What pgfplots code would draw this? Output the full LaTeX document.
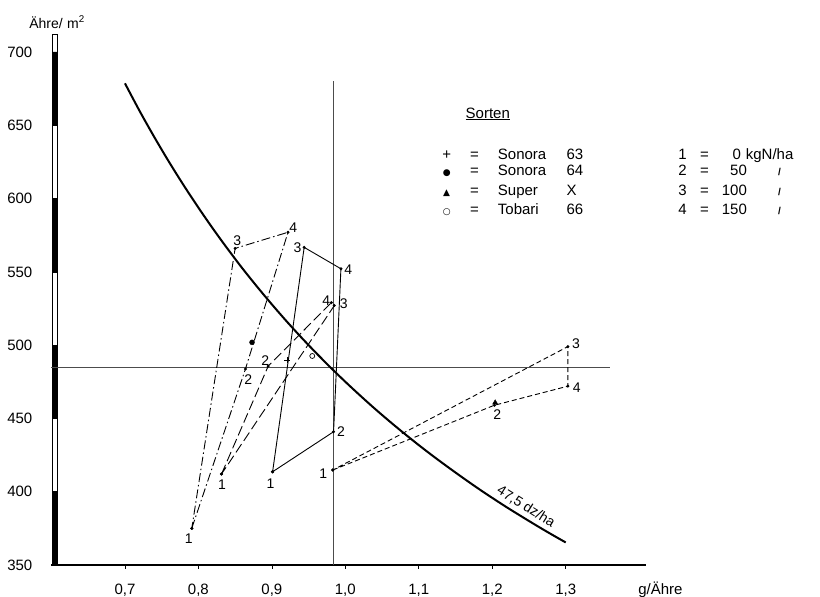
\documentclass[border=0pt]{standalone}
\usepackage{fontspec}
\setmainfont{Liberation Sans}
\newfontfamily\symfont{DejaVu Sans}
\usepackage{pgfplots}
\pgfplotsset{compat=1.18}
\begin{document}
\fontsize{15}{18}\selectfont
\begin{tikzpicture}
\path[use as bounding box] (-51.5pt,-32pt) rectangle (768.5pt,565pt);
\begin{axis}[
  at={(0pt,0pt)}, anchor=south west,
  scale only axis, width=595pt, height=535pt,
  xmin=0.6, xmax=1.41, ymin=350, ymax=715,
  axis x line=bottom, axis y line=left,
  x axis line style={line width=2pt,-},
  y axis line style={draw=none},
  xtick={0.7,0.8,0.9,1.0,1.1,1.2,1.3},
  ytick={350,400,450,500,550,600,650,700},
  xtick style={draw=black, line width=0.6pt},
  ytick style={draw=none},
  tick align=outside, major tick length=4pt,
  xticklabel style={/pgf/number format/.cd, use comma, fixed, fixed zerofill, precision=1, /tikz/.cd, yshift=-10pt},
  yticklabel style={/pgf/number format/.cd, fixed, precision=0, /tikz/.cd, xshift=-10pt},
  /pgf/number format/assume math mode=true,
  tick label style={font=\fontsize{15}{18}\selectfont},
  clip=false,
]
% y axis scale bar
\addplot[draw=black, fill=white, line width=0.5pt] coordinates {(0.601,350) (0.608,350) (0.608,712) (0.601,712) (0.601,350)};
\addplot[draw=black, fill=black, line width=0.5pt] coordinates {(0.601,350) (0.608,350) (0.608,400) (0.601,400) (0.601,350)};
\addplot[draw=black, fill=black, line width=0.5pt] coordinates {(0.601,450) (0.608,450) (0.608,500) (0.601,500) (0.601,450)};
\addplot[draw=black, fill=black, line width=0.5pt] coordinates {(0.601,550) (0.608,550) (0.608,600) (0.601,600) (0.601,550)};
\addplot[draw=black, fill=black, line width=0.5pt] coordinates {(0.601,650) (0.608,650) (0.608,700) (0.601,700) (0.601,650)};
% reference lines
\addplot[draw=black!70, line width=0.6pt] coordinates {(0.983,350) (0.983,680)};
\addplot[draw=black!70, line width=0.6pt] coordinates {(0.6,485) (1.36,485)};
% 47,5 dz/ha isoline
\addplot[black, line width=2pt, smooth] coordinates {
(0.70,678.6) (0.72,659.7) (0.74,641.9) (0.76,625.0) (0.78,609.0) (0.80,593.8)
(0.82,579.3) (0.84,565.5) (0.86,552.3) (0.88,539.8) (0.90,527.8) (0.92,516.3)
(0.94,505.3) (0.96,494.8) (0.98,484.7) (1.00,475.0) (1.02,465.7) (1.04,456.7)
(1.06,448.1) (1.08,439.8) (1.10,431.8) (1.12,424.1) (1.14,416.7) (1.16,409.5)
(1.18,402.5) (1.20,395.8) (1.22,389.3) (1.24,383.1) (1.26,377.0) (1.28,371.1)
(1.30,365.4)};
% Tobari 66 (solid): 1-2-4-3-1
\addplot[black, line width=0.9pt, mark=*, mark size=1pt] coordinates {(0.901,413.6) (0.984,440.9) (0.994,552.1) (0.944,566.7) (0.901,413.6)};
% Sonora 64 (dash-dot)
\addplot[black, line width=0.9pt, dash pattern=on 9pt off 3pt on 1.5pt off 3pt, mark=*, mark size=1pt, mark options={solid}] coordinates {(0.791,375) (0.864,483.7) (0.922,577) (0.850,566) (0.791,375)};
% Sonora 63 (long dashes)
\addplot[black, line width=0.9pt, dash pattern=on 10pt off 4pt, mark=*, mark size=1pt, mark options={solid}] coordinates {(0.8315,412.1) (0.895,485.7) (0.981,529) (0.985,527) (0.8315,412.1)};
% Super X (dashed)
\addplot[black, line width=0.9pt, dash pattern=on 5pt off 3pt, mark=*, mark size=1pt, mark options={solid}] coordinates {(0.983,414.8) (1.203,459) (1.303,472) (1.303,499) (0.983,414.8)};
% means
\addplot[only marks, mark=+, mark size=3pt, line width=0.8pt] coordinates {(0.921,489.8)};
\addplot[only marks, mark=*, mark size=2.5pt] coordinates {(0.873,501.9)};
\addplot[only marks, mark=triangle*, mark size=3pt] coordinates {(1.204,460.7)};
\addplot[only marks, mark=o, mark size=2.5pt, line width=0.7pt] coordinates {(0.955,492.6)};
% point labels
\begin{scope}[every node/.style={font=\fontsize{14}{16}\selectfont, inner sep=0pt}]
\node at (axis cs:0.898,405.3) {1};
\node at (axis cs:0.994,440.9) {2};
\node at (axis cs:0.935,566.4) {3};
\node at (axis cs:1.004,551.2) {4};
\node at (axis cs:0.787,368.2) {1};
\node at (axis cs:0.868,476.7) {2};
\node at (axis cs:0.853,571.2) {3};
\node at (axis cs:0.929,580) {4};
\node at (axis cs:0.832,404.6) {1};
\node at (axis cs:0.891,489.4) {2};
\node at (axis cs:0.974,530.3) {4};
\node at (axis cs:0.998,528) {3};
\node at (axis cs:0.970,412.5) {1};
\node at (axis cs:1.207,452.8) {2};
\node at (axis cs:1.314,501) {3};
\node at (axis cs:1.315,471.2) {4};
\end{scope}
% curve label
\node[rotate=-32, anchor=south, font=\fontsize{14}{16}\selectfont, inner sep=2pt] at (axis cs:1.24,385) {47,5 dz/ha};
% axis titles
\node[anchor=base east, inner sep=0pt, font=\fontsize{14}{16}\selectfont] at (axis cs:0.6156,716.3) {Ähre/};
\node[anchor=base west, inner sep=0pt, font=\fontsize{14}{16}\selectfont] at (axis cs:0.621,716.3) {m\textsuperscript{2}};
\node[anchor=base, inner sep=0pt] at (axis cs:1.429,330.2) {g/Ähre};
% legend
\begin{scope}[every node/.style={inner sep=0pt}]
\node[anchor=base] at (axis cs:1.194,654.9) {\underline{Sorten}};
\node[anchor=base] at (axis cs:1.138,626.9) {+};
\node[anchor=base] at (axis cs:1.176,626.9) {=};
\node[anchor=base west] at (axis cs:1.2075,626.9) {Sonora};
\node[anchor=base west] at (axis cs:1.301,626.9) {63};
\node[anchor=base] at (axis cs:1.138,615.5) {\symfont\fontsize{9}{10}\selectfont ●};
\node[anchor=base] at (axis cs:1.176,615.5) {=};
\node[anchor=base west] at (axis cs:1.2075,615.5) {Sonora};
\node[anchor=base west] at (axis cs:1.301,615.5) {64};
\node[anchor=base] at (axis cs:1.138,602.4) {\symfont\fontsize{9}{10}\selectfont ▲};
\node[anchor=base] at (axis cs:1.176,602.4) {=};
\node[anchor=base west] at (axis cs:1.2075,602.4) {Super};
\node[anchor=base west] at (axis cs:1.301,602.4) {X};
\node[anchor=base] at (axis cs:1.138,589.2) {\symfont\fontsize{9}{10}\selectfont ○};
\node[anchor=base] at (axis cs:1.176,589.2) {=};
\node[anchor=base west] at (axis cs:1.2075,589.2) {Tobari};
\node[anchor=base west] at (axis cs:1.301,589.2) {66};
% N levels
\node[anchor=base] at (axis cs:1.459,626.9) {1};
\node[anchor=base] at (axis cs:1.489,626.9) {=};
\node[anchor=base east] at (axis cs:1.539,626.9) {0};
\node[anchor=base west] at (axis cs:1.545,626.9) {kgN/ha};
\node[anchor=base] at (axis cs:1.459,615.5) {2};
\node[anchor=base] at (axis cs:1.489,615.5) {=};
\node[anchor=base east] at (axis cs:1.547,615.5) {50};
\node[anchor=base] at (axis cs:1.591,615.5) {\bfseries\fontsize{10}{12}\selectfont /};
\node[anchor=base] at (axis cs:1.459,602.4) {3};
\node[anchor=base] at (axis cs:1.489,602.4) {=};
\node[anchor=base east] at (axis cs:1.547,602.4) {100};
\node[anchor=base] at (axis cs:1.591,602.4) {\bfseries\fontsize{10}{12}\selectfont /};
\node[anchor=base] at (axis cs:1.459,589.2) {4};
\node[anchor=base] at (axis cs:1.489,589.2) {=};
\node[anchor=base east] at (axis cs:1.547,589.2) {150};
\node[anchor=base] at (axis cs:1.591,589.2) {\bfseries\fontsize{10}{12}\selectfont /};
\end{scope}
\end{axis}
\end{tikzpicture}
\end{document}
